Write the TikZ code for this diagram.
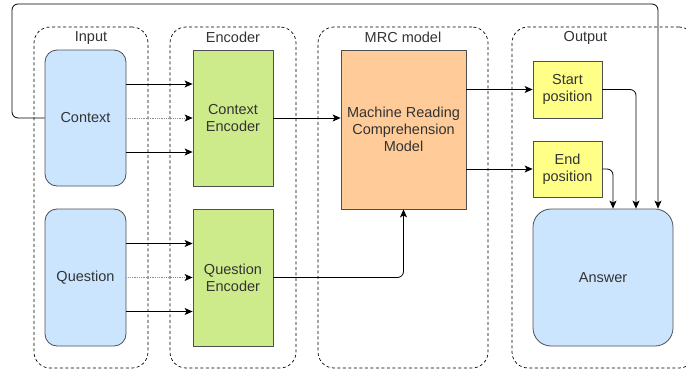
\documentclass[tikz,border=0pt]{standalone}
\usepackage{fontspec}
\setmainfont{Liberation Sans}
\usetikzlibrary{arrows.meta}

\definecolor{ink}{HTML}{333333}
\definecolor{edge}{HTML}{4D4F52}
\definecolor{inblue}{HTML}{CCE5FF}
\definecolor{encgreen}{HTML}{CDEB8B}
\definecolor{mrcorange}{HTML}{FFCC99}
\definecolor{posyellow}{HTML}{FFFF88}

\begin{document}
\begin{tikzpicture}[x=1pt,y=-1pt,
    txt/.style={text=ink, font=\fontsize{14.5}{17}\selectfont},
    box/.style={txt, draw=edge, line width=0.8pt, inner sep=0pt, align=center},
    grp/.style={draw=black, line width=0.7pt, dash pattern=on 3pt off 2.5pt,
        rounded corners=16pt, inner sep=0pt, minimum height=341pt},
    glabel/.style={txt, inner sep=0pt, anchor=north},
    arr/.style={-{Stealth[length=8pt,width=7pt,inset=2pt,color=black]}, line width=0.8pt},
    weak/.style={arr, densely dotted, draw=black!45}]
  \clip (0,0) rectangle (686,372);

  \node[grp, minimum width=114pt] (gin) at (91,197.5) {};
  \node[grp, minimum width=126pt] (genc) at (233,197.5) {};
  \node[grp, minimum width=170pt] (gmrc) at (403,197.5) {};
  \node[grp, minimum width=183pt] (gout) at (603.5,197.5) {};
  \node[glabel] (lin) at ([yshift=-5pt]gin.north) {Input};
  \node[glabel] (lenc) at ([yshift=-5pt]genc.north) {Encoder};
  \node[glabel] (lmrc) at ([yshift=-5pt]gmrc.north) {MRC model};
  \node[glabel] (lout) at ([xshift=-18pt,yshift=-5pt]gout.north) {Output};

  \node[box, fill=inblue, rounded corners=12pt, minimum width=81pt, minimum height=136pt]
    (ctx) at (85.5,118) {Context};
  \node[box, fill=inblue, rounded corners=12pt, minimum width=81pt, minimum height=137pt]
    (qst) at (85.5,277.5) {Question};
  \node[box, fill=encgreen, minimum width=80pt, minimum height=136pt]
    (ctxenc) at (233,118) {Context\\Encoder};
  \node[box, fill=encgreen, minimum width=80pt, minimum height=137pt]
    (qenc) at (233,277.5) {Question\\Encoder};
  \node[box, fill=mrcorange, minimum width=125pt, minimum height=159pt]
    (mrc) at (403.5,129.5) {Machine Reading\\Comprehension\\Model};
  \node[box, fill=posyellow, minimum width=69pt, minimum height=57pt]
    (startpos) at (567.5,89.5) {Start\\position};
  \node[box, fill=posyellow, minimum width=69pt, minimum height=56pt]
    (endpos) at (567.5,169) {End\\position};
  \node[box, fill=inblue, rounded corners=18pt, minimum width=140pt, minimum height=137pt]
    (ans) at (603,277.5) {Answer};

  \coordinate (fbl) at (12,4);
  \coordinate (fbr) at (658,4);

  \draw[arr] ([yshift=34pt]ctx.east) -- ([yshift=34pt]ctxenc.west);
  \draw[weak] (ctx.east) -- (ctxenc.west);
  \draw[arr] ([yshift=-34pt]ctx.east) -- ([yshift=-34pt]ctxenc.west);
  \draw[arr] ([yshift=34pt]qst.east) -- ([yshift=34pt]qenc.west);
  \draw[weak] (qst.east) -- (qenc.west);
  \draw[arr] ([yshift=-34pt]qst.east) -- ([yshift=-34pt]qenc.west);

  \draw[arr] (ctxenc.east) -- (ctxenc.east -| mrc.west);
  \draw[arr, rounded corners=6pt] (qenc.east) -| (mrc.south);

  \draw[arr] (startpos.west -| mrc.east) -- (startpos.west);
  \draw[arr] (endpos.west -| mrc.east) -- (endpos.west);

  \draw[arr, rounded corners=6pt] (startpos.east) -| ([xshift=33pt]ans.north);
  \draw[arr, rounded corners=6pt] (endpos.east) -| ([xshift=10pt]ans.north);
  \draw[arr, rounded corners=6pt] (ctx.west) -| (fbl) -- (fbr) -- (fbr |- ans.north);
\end{tikzpicture}
\end{document}
